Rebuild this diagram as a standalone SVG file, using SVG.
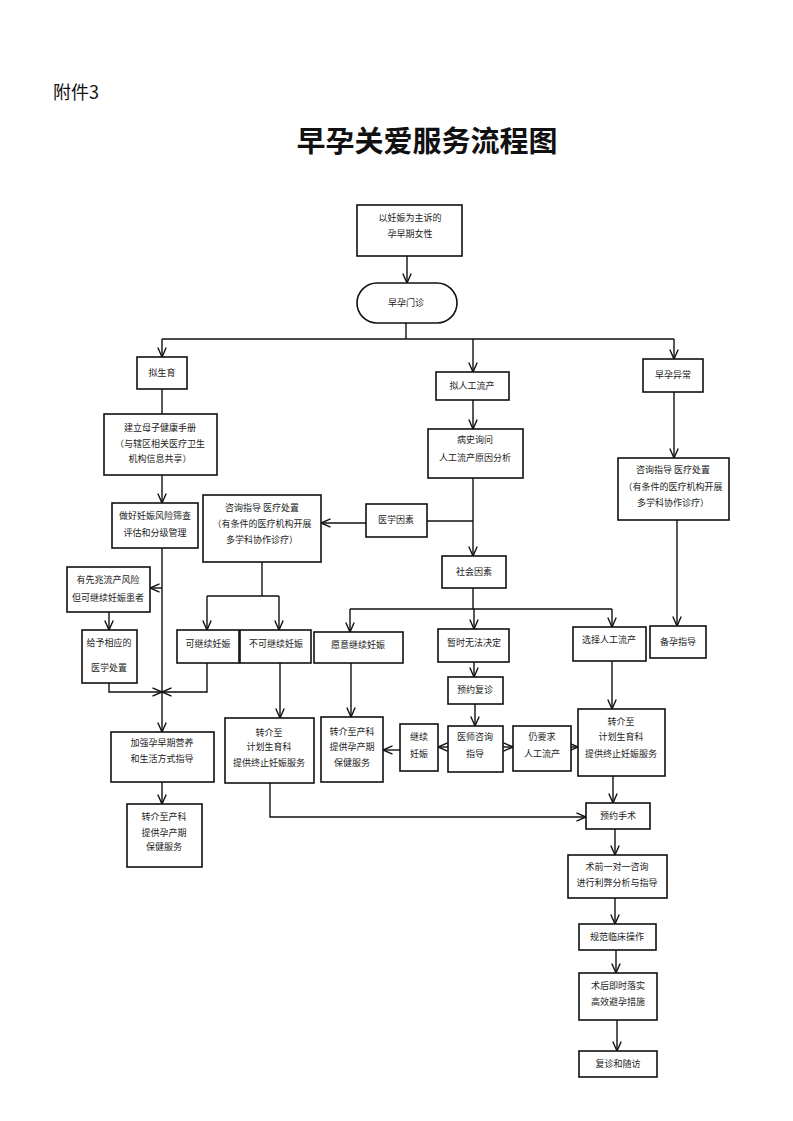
<svg xmlns="http://www.w3.org/2000/svg" width="793" height="1121" viewBox="0 0 793 1121">
<style>
.b{fill:#fff;stroke:#111;stroke-width:1.6}
.t{font-family:"Noto Sans CJK SC","Noto Sans",sans-serif;font-size:9px;fill:#222;text-anchor:middle}
.c{fill:none;stroke:#111;stroke-width:1.4}
.a{marker-end:url(#arr)}
</style>
<defs>
<marker id="arr" viewBox="0 0 10 10" refX="10" refY="5" markerWidth="10" markerHeight="10" markerUnits="userSpaceOnUse" orient="auto">
<path d="M0.5,0.8 L10,5 L0.5,9.2" fill="none" stroke="#111" stroke-width="1.4"/>
</marker>
</defs>
<rect width="793" height="1121" fill="#fff"/>
<text x="53" y="99" style="font-family:'Noto Sans CJK SC',sans-serif;font-size:18px;fill:#111">附件3</text>
<text x="427" y="152" style="font-family:'Noto Sans CJK SC',serif;font-size:29px;font-weight:700;fill:#111;text-anchor:middle">早孕关爱服务流程图</text>

<g id="connectors">
<path class="c a" d="M407,256 V283"/>
<path class="c" d="M406,323 V339 M162,339 H674"/>
<path class="c a" d="M162,339 V357"/>
<path class="c a" d="M473,339 V372"/>
<path class="c a" d="M674,339 V359"/>
<path class="c" d="M162,389 V414"/>
<path class="c a" d="M473,400 V429"/>
<path class="c a" d="M674,392 V458"/>
<path class="c a" d="M677,520 V626"/>
<path class="c a" d="M162,475 V503"/>
<path class="c a" d="M473,478 V556"/>
<path class="c" d="M427,521 H473"/>
<path class="c a" d="M366,523 H321"/>
<path class="c a" d="M162,548 V732"/>
<path class="c a" d="M162,588 H150"/>
<path class="c a" d="M109,612 V630"/>
<path class="c a" d="M109,683 V692 H162"/>
<path class="c a" d="M207,663 V692 H162"/>
<path class="c" d="M262,562 V596 M207,596 H279"/>
<path class="c a" d="M207,596 V630"/>
<path class="c a" d="M279,596 V630"/>
<path class="c" d="M473,588 V609 M350,609 H612"/>
<path class="c a" d="M350,609 V632"/>
<path class="c a" d="M474,609 V629"/>
<path class="c a" d="M612,609 V627"/>
<path class="c a" d="M280,663 V718"/>
<path class="c a" d="M351,663 V717"/>
<path class="c a" d="M474,662 V677"/>
<path class="c a" d="M475,704 V726"/>
<path class="c a" d="M448,747 H438"/>
<path class="c a" d="M503,747 H513"/>
<path class="c a" d="M571,747 H578"/>
<path class="c a" d="M400,750 H383"/>
<path class="c a" d="M612,661 V709"/>
<path class="c a" d="M162,782 V804"/>
<path class="c a" d="M270,783 V817 H586"/>
<path class="c a" d="M613,776 V803"/>
<path class="c a" d="M615,829 V855"/>
<path class="c a" d="M615,898 V924"/>
<path class="c a" d="M616,950 V973"/>
<path class="c a" d="M617,1020 V1051"/>
</g>

<g id="n1"><rect class="b" x="357" y="205" width="105" height="51"/><text class="t" x="410" y="221">以妊娠为主诉的</text><text class="t" x="410" y="237">孕早期女性</text></g>
<g id="n2"><rect class="b" x="357" y="283" width="100" height="40" rx="20"/><text class="t" x="406" y="306">早孕门诊</text></g>
<g id="n3"><rect class="b" x="137" y="357" width="50" height="32"/><text class="t" x="162" y="376">拟生育</text></g>
<g id="n4"><rect class="b" x="104" y="414" width="113" height="61"/><text class="t" x="160" y="431">建立母子健康手册</text><text class="t" x="160" y="447">（与辖区相关医疗卫生</text><text class="t" x="160" y="462">机构信息共享）</text></g>
<g id="n5"><rect class="b" x="112" y="503" width="86" height="45"/><text class="t" x="155" y="519">做好妊娠风险筛查</text><text class="t" x="155" y="536">评估和分级管理</text></g>
<g id="n6"><rect class="b" x="67" y="567" width="83" height="45"/><text class="t" x="108" y="583">有先兆流产风险</text><text class="t" x="108" y="601">但可继续妊娠患者</text></g>
<g id="n7"><rect class="b" x="82" y="630" width="55" height="53"/><text class="t" x="109" y="646">给予相应的</text><text class="t" x="109" y="671">医学处置</text></g>
<g id="n8"><rect class="b" x="203" y="495" width="118" height="67"/><text class="t" x="262" y="511">咨询指导  医疗处置</text><text class="t" x="262" y="527">（有条件的医疗机构开展</text><text class="t" x="262" y="543">多学科协作诊疗）</text></g>
<g id="n9"><rect class="b" x="366" y="504" width="61" height="33"/><text class="t" x="396" y="523">医学因素</text></g>
<g id="n10"><rect class="b" x="436" y="372" width="73" height="28"/><text class="t" x="472" y="389">拟人工流产</text></g>
<g id="n11"><rect class="b" x="428" y="429" width="95" height="49"/><text class="t" x="475" y="443">病史询问</text><text class="t" x="475" y="461">人工流产原因分析</text></g>
<g id="n12"><rect class="b" x="442" y="556" width="64" height="32"/><text class="t" x="474" y="575">社会因素</text></g>
<g id="n13"><rect class="b" x="643" y="359" width="60" height="33"/><text class="t" x="673" y="378">早孕异常</text></g>
<g id="n14"><rect class="b" x="618" y="458" width="111" height="62"/><text class="t" x="673" y="473">咨询指导  医疗处置</text><text class="t" x="673" y="490">（有条件的医疗机构开展</text><text class="t" x="673" y="506">多学科协作诊疗）</text></g>
<g id="n15"><rect class="b" x="650" y="626" width="56" height="32"/><text class="t" x="678" y="645">备孕指导</text></g>
<g id="n16"><rect class="b" x="177" y="630" width="62" height="33"/><text class="t" x="208" y="647">可继续妊娠</text></g>
<g id="n17"><rect class="b" x="240" y="630" width="71" height="33"/><text class="t" x="276" y="647">不可继续妊娠</text></g>
<g id="n18"><rect class="b" x="314" y="632" width="89" height="31"/><text class="t" x="358" y="648">愿意继续妊娠</text></g>
<g id="n19"><rect class="b" x="438" y="629" width="71" height="33"/><text class="t" x="474" y="646">暂时无法决定</text></g>
<g id="n20"><rect class="b" x="573" y="627" width="73" height="34"/><text class="t" x="609" y="643">选择人工流产</text></g>
<g id="n21"><rect class="b" x="448" y="677" width="55" height="27"/><text class="t" x="475" y="693">预约复诊</text></g>
<g id="n22"><rect class="b" x="448" y="726" width="55" height="46"/><text class="t" x="475" y="740">医师咨询</text><text class="t" x="475" y="757">指导</text></g>
<g id="n23"><rect class="b" x="400" y="724" width="38" height="47"/><text class="t" x="419" y="740">继续</text><text class="t" x="419" y="757">妊娠</text></g>
<g id="n24"><rect class="b" x="513" y="726" width="58" height="45"/><text class="t" x="542" y="740">仍要求</text><text class="t" x="542" y="757">人工流产</text></g>
<g id="n25"><rect class="b" x="578" y="709" width="87" height="67"/><text class="t" x="621" y="725">转介至</text><text class="t" x="621" y="740">计划生育科</text><text class="t" x="621" y="757">提供终止妊娠服务</text></g>
<g id="n26"><rect class="b" x="225" y="718" width="89" height="65"/><text class="t" x="269" y="736">转介至</text><text class="t" x="269" y="750">计划生育科</text><text class="t" x="269" y="766">提供终止妊娠服务</text></g>
<g id="n27"><rect class="b" x="321" y="717" width="62" height="65"/><text class="t" x="352" y="735">转介至产科</text><text class="t" x="352" y="750">提供孕产期</text><text class="t" x="352" y="766">保健服务</text></g>
<g id="n28"><rect class="b" x="111" y="732" width="103" height="50"/><text class="t" x="162" y="746">加强孕早期营养</text><text class="t" x="162" y="762">和生活方式指导</text></g>
<g id="n29"><rect class="b" x="127" y="804" width="75" height="63"/><text class="t" x="164" y="820">转介至产科</text><text class="t" x="164" y="836">提供孕产期</text><text class="t" x="164" y="850">保健服务</text></g>
<g id="n30"><rect class="b" x="586" y="803" width="64" height="26"/><text class="t" x="618" y="819">预约手术</text></g>
<g id="n31"><rect class="b" x="568" y="855" width="99" height="43"/><text class="t" x="617" y="870">术前一对一咨询</text><text class="t" x="617" y="886">进行利弊分析与指导</text></g>
<g id="n32"><rect class="b" x="579" y="924" width="77" height="26"/><text class="t" x="617" y="940">规范临床操作</text></g>
<g id="n33"><rect class="b" x="579" y="973" width="78" height="47"/><text class="t" x="618" y="989">术后即时落实</text><text class="t" x="618" y="1005">高效避孕措施</text></g>
<g id="n34"><rect class="b" x="579" y="1051" width="78" height="26"/><text class="t" x="618" y="1067">复诊和随访</text></g>
</svg>
